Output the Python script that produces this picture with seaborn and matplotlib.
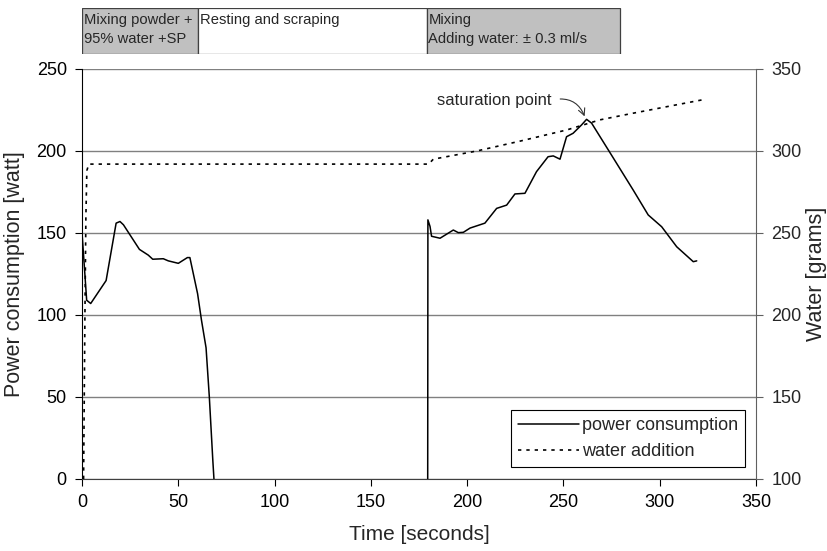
import numpy as np
import pandas as pd
import matplotlib
matplotlib.use("Agg")
import matplotlib.pyplot as plt
from matplotlib.lines import Line2D
from matplotlib.patches import Rectangle
import seaborn as sns

# Power consumption, first mixing phase (powder + 95% water + SP)
t_mix1 = [0, 2.4, 4.5, 12.5, 17.7, 19.7, 21.5, 29.8, 34.4, 36.7, 42.2, 44.8,
          50, 54.7, 56, 60, 62, 64.4, 66.1, 67.9, 68.5]
p_mix1 = [150, 109, 107, 121, 156, 157, 155, 140, 136.5, 134, 134.3, 133,
          131.5, 135, 135, 113, 97, 80, 50, 11.6, 0]

# Power consumption, second mixing phase (adding water)
t_mix2 = [179.5, 179.6, 180.7, 181.5, 185.9, 192.8, 195.4, 198, 201.5, 209.2,
          215.3, 220.5, 224.8, 230, 236, 242, 244.7, 248.2, 251.6, 255, 259.4,
          262, 264.6, 273.3, 286.2, 294, 301, 308.8, 317.4, 319.2]
p_mix2 = [0, 158, 154, 148, 146.8, 151.8, 150.2, 150.4, 153, 156,
          165, 167, 173.8, 174.2, 187.4, 196.5, 197, 195, 208.7, 210.8, 215.9,
          219.3, 217, 200.6, 176.2, 161, 153.8, 141.6, 132.5, 133]

# Cumulative water addition
t_water = [0.8, 1.5, 2.0, 2.5, 3.5, 165, 180, 182.4, 205, 227.4, 251.6, 269,
           286, 303.6, 323.5]
w_water = [100, 200, 260, 288, 292, 292, 292, 295, 300, 306, 312.8, 319,
           323, 327, 331.5]

# Process phases shown above the chart
phase_bounds = [(0, 60.2), (60.2, 179.1), (179.1, 279.3)]
phase_labels = ["Mixing powder +\n95% water +SP", "Resting and scraping",
                "Mixing\nAdding water: \u00b1 0.3 ml/s"]
phase_colors = ["#c0c0c0", "#ffffff", "#c0c0c0"]

sns.set_style("white")
plt.rcParams["font.family"] = ["Liberation Sans", "DejaVu Sans"]

fig = plt.figure(figsize=(8.27, 5.51), dpi=100)
ax = fig.add_axes([0.0992, 0.1307, 0.8150, 0.7441])
ax2 = ax.twinx()

df1 = pd.DataFrame({"t": t_mix1, "p": p_mix1})
df2 = pd.DataFrame({"t": t_mix2, "p": p_mix2})
dfw = pd.DataFrame({"t": t_water, "w": w_water})

sns.lineplot(data=df1, x="t", y="p", ax=ax, color="black", lw=1.1, sort=False)
sns.lineplot(data=df2, x="t", y="p", ax=ax, color="black", lw=1.1, sort=False)
sns.lineplot(data=dfw, x="t", y="w", ax=ax2, color="black", lw=1.2,
             sort=False, linestyle=(0, (2, 3)))

ax.set_xlim(0, 350)
ax.set_ylim(0, 250)
ax2.set_ylim(100, 350)
ax.set_xticks(np.arange(0, 351, 50))
ax.set_yticks(np.arange(0, 251, 50))
ax2.set_yticks(np.arange(100, 351, 50))

ax.grid(axis="y", color="#808080", lw=1.0)
ax.set_axisbelow(True)

for a in (ax, ax2):
    for s in a.spines.values():
        s.set_visible(False)
ax.spines["left"].set_visible(True)
ax.spines["left"].set_color("black")
ax.spines["bottom"].set_visible(True)
ax.spines["bottom"].set_color("#404040")
ax2.spines["right"].set_visible(True)
ax2.spines["right"].set_color("#606060")

ax.tick_params(axis="both", direction="out", length=5, width=0.8,
               labelsize=13, colors="black", pad=6)
ax.tick_params(axis="y", left=True)
ax.tick_params(axis="x", bottom=True)
ax2.tick_params(axis="y", direction="out", length=5, width=0.8,
                labelsize=13, right=True, pad=6, color="#606060")

ax.set_xlabel("Time [seconds]", fontsize=15, labelpad=10)
ax.set_ylabel("Power consumption [watt]", fontsize=15.5, labelpad=8)
ax2.set_ylabel("Water [grams]", fontsize=15.5, labelpad=3)

ax.annotate("saturation point", xy=(261.5, 219.5), xytext=(214, 231),
            ha="center", va="center", fontsize=12,
            arrowprops=dict(arrowstyle="->", color="#333333", lw=0.8,
                            shrinkA=4, shrinkB=2, relpos=(1.0, 0.5),
                            connectionstyle="arc3,rad=-0.45"))

handles = [Line2D([], [], color="black", lw=1.1),
           Line2D([], [], color="black", lw=1.2, linestyle=(0, (2, 3)))]
leg = ax2.legend(handles, ["power consumption", "water addition"],
                 loc="lower right", bbox_to_anchor=(0.984, 0.029),
                 fontsize=13, handlelength=3.4, fancybox=False,
                 framealpha=1, edgecolor="black", borderpad=0.4,
                 labelspacing=0.5, handletextpad=0.15, borderaxespad=0)
leg.get_frame().set_linewidth(0.8)

# Phase bar above the plot
pax = fig.add_axes([0.0992, 1 - 54 / 551, 0.8150, 46 / 551])
pax.set_xlim(0, 350)
pax.set_ylim(0, 1)
pax.axis("off")
for (x0, x1), lab, col in zip(phase_bounds, phase_labels, phase_colors):
    pax.add_patch(Rectangle((x0, 0), x1 - x0, 1, facecolor=col,
                            edgecolor="#404040", lw=0.9))
    pax.text(x0 + 0.8, 0.9, lab, ha="left", va="top", fontsize=10.6,
             linespacing=1.45)

fig.savefig("out.png", dpi=100)
